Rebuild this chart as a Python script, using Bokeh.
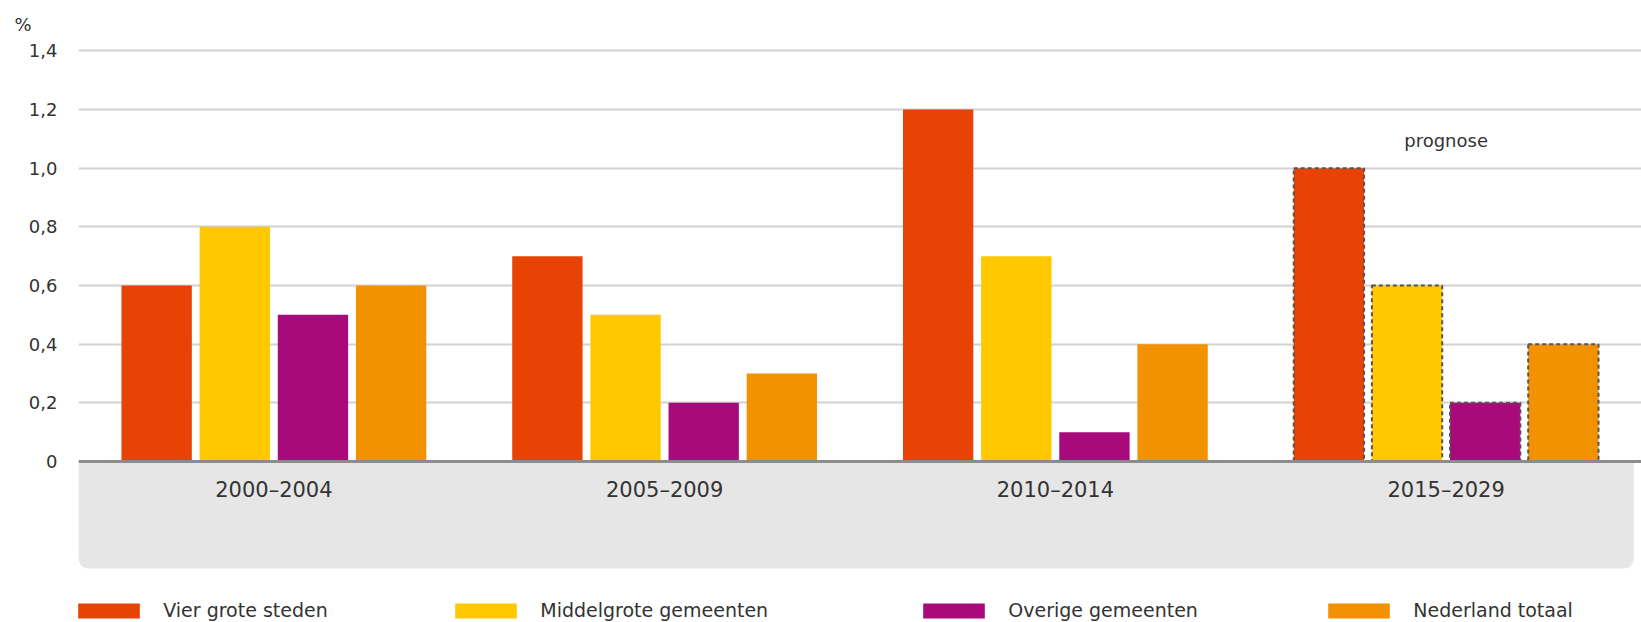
from bokeh.plotting import figure
from bokeh.models import (FactorRange, Range1d, FixedTicker, Span, BoxAnnotation,
                          Legend, LegendItem, Title, ColumnDataSource, CustomJSTickFormatter)
from bokeh.transform import dodge
from bokeh.core.properties import value
from bokeh.embed import file_html
from bokeh.resources import INLINE

# ---- data ----
categories = ["2000–2004", "2005–2009", "2010–2014", "2015–2029"]
series_names = ["Vier grote steden", "Middelgrote gemeenten", "Overige gemeenten", "Nederland totaal"]
vier_grote_steden = [0.6, 0.7, 1.2, 1.0]
middelgrote_gemeenten = [0.8, 0.5, 0.7, 0.6]
overige_gemeenten = [0.5, 0.2, 0.1, 0.2]
nederland_totaal = [0.6, 0.3, 0.4, 0.4]
forecast_category = "2015–2029"
forecast_label = "prognose"
y_ticks = [0, 0.2, 0.4, 0.6, 0.8, 1.0, 1.2, 1.4]
y_tick_labels = ["0", "0,2", "0,4", "0,6", "0,8", "1,0", "1,2", "1,4"]
unit_label = "%"

colors = ["#E64304", "#FFC800", "#A8097B", "#F39200"]
FONT = "DejaVu Sans"
TXT = "#333333"

series_values = [vier_grote_steden, middelgrote_gemeenten, overige_gemeenten, nederland_totaal]
keys = ["s0", "s1", "s2", "s3"]

hist_idx = [i for i, c in enumerate(categories) if c != forecast_category]
prog_idx = [i for i, c in enumerate(categories) if c == forecast_category]

def make_source(idx):
    d = {"cat": [categories[i] for i in idx]}
    for k, vals in zip(keys, series_values):
        d[k] = [vals[i] for i in idx]
    return ColumnDataSource(d)

src_hist = make_source(hist_idx)
src_prog = make_source(prog_idx)

p = figure(x_range=FactorRange(*categories, range_padding=0),
           y_range=Range1d(-0.5489, 1.4422),
           width=1641, height=622, title=None,
           output_backend="svg", toolbar_location=None,
           x_axis_location=None,
           min_border_left=78, min_border_right=0, min_border_bottom=0, min_border_top=38)
p.outline_line_color = None
p.background_fill_color = "white"
p.xgrid.grid_line_color = None

ticker = FixedTicker(ticks=y_ticks)
p.yaxis.ticker = ticker
p.yaxis.formatter = CustomJSTickFormatter(
    args=dict(tick_vals=y_ticks, tick_texts=y_tick_labels),
    code="const i = tick_vals.findIndex(t => Math.abs(t - tick) < 1e-9); return i >= 0 ? tick_texts[i] : '';")
p.yaxis.axis_line_color = None
p.yaxis.major_tick_line_color = None
p.yaxis.minor_tick_line_color = None
p.yaxis.major_tick_out = 0
p.yaxis.major_label_standoff = 21
p.yaxis.major_label_text_font = FONT
p.yaxis.major_label_text_font_size = "18px"
p.yaxis.major_label_text_color = TXT
p.ygrid.grid_line_color = "#d2d2d2"
p.ygrid.grid_line_width = 2

# grey category band under the axis
band = BoxAnnotation(left=0, right=3.98, top=0, bottom=-0.365,
                     fill_color="#e6e6e6", fill_alpha=1, line_color=None,
                     border_radius=dict(top_left=0, top_right=0, bottom_right=10, bottom_left=10),
                     level="underlay")
p.add_layout(band)

offsets = [-0.3, -0.1, 0.1, 0.3]
bar_w = 0.18
renderers = []
for k, off, col in zip(keys, offsets, colors):
    r = p.vbar(x=dodge("cat", off, range=p.x_range), top=k, bottom=0, width=bar_w,
               source=src_hist, fill_color=col, line_color=None)
    renderers.append(r)
    p.vbar(x=dodge("cat", off, range=p.x_range), top=k, bottom=0, width=bar_w,
           source=src_prog, fill_color=col, line_color="#555555", line_width=2, line_dash="4 3")

p.add_layout(Span(location=0, dimension="width", line_color="#8c8c8c", line_width=3))

# category labels
p.text(x=categories, y=[-0.097] * len(categories), text=categories,
       text_align="center", text_baseline="middle",
       text_font=value(FONT), text_font_size="21px", text_color=TXT)

# forecast label
p.text(x=[forecast_category], y=[1.094], text=[forecast_label],
       text_align="center", text_baseline="middle",
       text_font=value(FONT), text_font_size="18px", text_color=TXT)

# unit label
p.add_layout(Title(text=unit_label, align="left", offset=-64, standoff=8,
                   text_font_size="18px", text_font=FONT, text_font_style="normal",
                   text_color=TXT), "above")

legend_x = [-7.75, 369.25, 837.25, 1242.25]
for name, r, lx in zip(series_names, renderers, legend_x):
    leg = Legend(items=[LegendItem(label=name, renderers=[r])], location=(lx, 1),
                 orientation="horizontal", padding=0, margin=0, spacing=0,
                 glyph_width=77, glyph_height=19, label_height=19, label_standoff=16,
                 label_text_font_size="19px", label_text_font=FONT, label_text_color=TXT,
                 border_line_color=None, background_fill_alpha=0)
    p.add_layout(leg)

open("out.html", "w").write(file_html(p, INLINE))
